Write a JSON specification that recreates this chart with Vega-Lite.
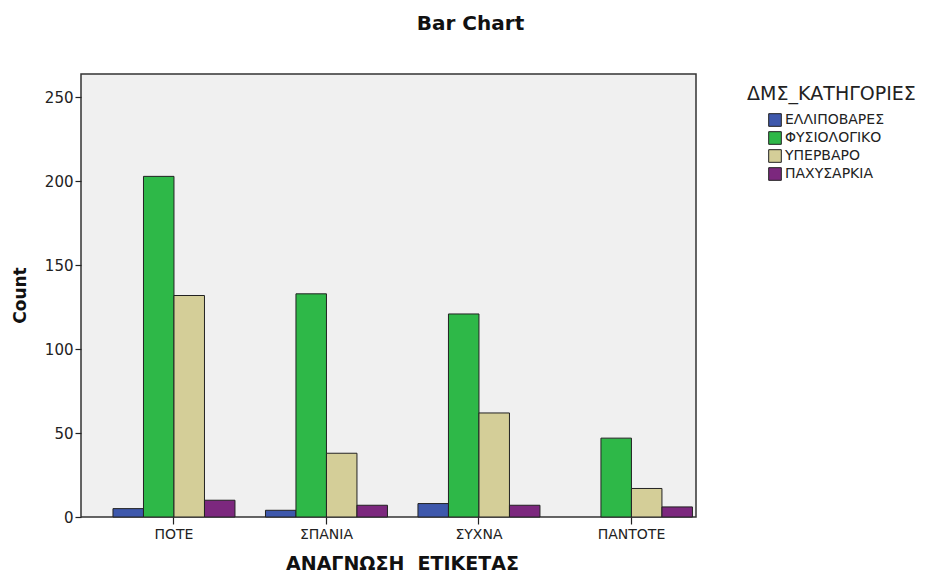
{
  "$schema": "https://vega.github.io/schema/vega-lite/v6.json",
  "width": 615,
  "height": 443,
  "autosize": "none",
  "padding": {"left": 81, "top": 74, "right": 234, "bottom": 55},
  "background": "white",
  "title": {"text": "Bar Chart", "font": "DejaVu Sans", "fontSize": 20, "fontWeight": "bold", "color": "#111", "anchor": "middle", "dx": 82, "offset": 40},
  "config": {
    "view": {"fill": "#f0f0f0", "stroke": "#333", "strokeWidth": 1.5},
    "font": "DejaVu Sans"
  },
  "data": {"values": [
    {"reading": "ΠΟΤΕ", "bmi": "ΕΛΛΙΠΟΒΑΡΕΣ", "count": 5},
    {"reading": "ΠΟΤΕ", "bmi": "ΦΥΣΙΟΛΟΓΙΚΟ", "count": 203},
    {"reading": "ΠΟΤΕ", "bmi": "ΥΠΕΡΒΑΡΟ", "count": 132},
    {"reading": "ΠΟΤΕ", "bmi": "ΠΑΧΥΣΑΡΚΙΑ", "count": 10},
    {"reading": "ΣΠΑΝΙΑ", "bmi": "ΕΛΛΙΠΟΒΑΡΕΣ", "count": 4},
    {"reading": "ΣΠΑΝΙΑ", "bmi": "ΦΥΣΙΟΛΟΓΙΚΟ", "count": 133},
    {"reading": "ΣΠΑΝΙΑ", "bmi": "ΥΠΕΡΒΑΡΟ", "count": 38},
    {"reading": "ΣΠΑΝΙΑ", "bmi": "ΠΑΧΥΣΑΡΚΙΑ", "count": 7},
    {"reading": "ΣΥΧΝΑ", "bmi": "ΕΛΛΙΠΟΒΑΡΕΣ", "count": 8},
    {"reading": "ΣΥΧΝΑ", "bmi": "ΦΥΣΙΟΛΟΓΙΚΟ", "count": 121},
    {"reading": "ΣΥΧΝΑ", "bmi": "ΥΠΕΡΒΑΡΟ", "count": 62},
    {"reading": "ΣΥΧΝΑ", "bmi": "ΠΑΧΥΣΑΡΚΙΑ", "count": 7},
    {"reading": "ΠΑΝΤΟΤΕ", "bmi": "ΦΥΣΙΟΛΟΓΙΚΟ", "count": 47},
    {"reading": "ΠΑΝΤΟΤΕ", "bmi": "ΥΠΕΡΒΑΡΟ", "count": 17},
    {"reading": "ΠΑΝΤΟΤΕ", "bmi": "ΠΑΧΥΣΑΡΚΙΑ", "count": 6}
  ]},
  "mark": {"type": "bar", "stroke": "#222", "strokeWidth": 1},
  "encoding": {
    "x": {
      "field": "reading", "type": "nominal",
      "sort": ["ΠΟΤΕ", "ΣΠΑΝΙΑ", "ΣΥΧΝΑ", "ΠΑΝΤΟΤΕ"],
      "scale": {"paddingInner": 0.2, "paddingOuter": 0.1165, "align": 0.9},
      "axis": {
        "title": "ΑΝΑΓΝΩΣΗ\u00a0\u00a0ΕΤΙΚΕΤΑΣ",
        "titleFont": "DejaVu Sans", "titleFontSize": 19, "titleFontWeight": "bold", "titleColor": "#111",
        "titleX": 321, "titleY": 46, "titleBaseline": "middle",
        "labelAngle": 0, "labelFont": "DejaVu Sans", "labelFontSize": 14, "labelColor": "#222", "labelPadding": 3,
        "tickColor": "#222", "tickSize": 7, "tickWidth": 1.2,
        "domain": false, "grid": false
      }
    },
    "xOffset": {
      "field": "bmi", "type": "nominal",
      "sort": ["ΕΛΛΙΠΟΒΑΡΕΣ", "ΦΥΣΙΟΛΟΓΙΚΟ", "ΥΠΕΡΒΑΡΟ", "ΠΑΧΥΣΑΡΚΙΑ"],
      "scale": {"domain": ["ΕΛΛΙΠΟΒΑΡΕΣ", "ΦΥΣΙΟΛΟΓΙΚΟ", "ΥΠΕΡΒΑΡΟ", "ΠΑΧΥΣΑΡΚΙΑ"], "paddingInner": 0, "paddingOuter": 0}
    },
    "y": {
      "field": "count", "type": "quantitative",
      "scale": {"domain": [0, 264], "nice": false},
      "axis": {
        "title": "Count",
        "titleFont": "DejaVu Sans", "titleFontSize": 17, "titleFontWeight": "bold", "titleColor": "#111",
        "titleX": -61, "titleY": 221, "titleBaseline": "middle", "titleAngle": 270,
        "values": [0, 50, 100, 150, 200, 250],
        "labelFont": "DejaVu Sans", "labelFontSize": 15, "labelColor": "#222", "labelPadding": 2,
        "tickColor": "#222", "tickSize": 6, "tickWidth": 1.2,
        "domain": false, "grid": false
      }
    },
    "color": {
      "field": "bmi", "type": "nominal",
      "scale": {"domain": ["ΕΛΛΙΠΟΒΑΡΕΣ", "ΦΥΣΙΟΛΟΓΙΚΟ", "ΥΠΕΡΒΑΡΟ", "ΠΑΧΥΣΑΡΚΙΑ"], "range": ["#3e58ac", "#2eb848", "#d4ce98", "#7c287e"]},
      "legend": {
        "title": "ΔΜΣ_ΚΑΤΗΓΟΡΙΕΣ",
        "orient": "none", "legendX": 666, "legendY": 11,
        "titleFont": "DejaVu Sans", "titleFontSize": 19, "titleFontWeight": "normal", "titleColor": "#222", "titlePadding": 9,
        "labelFont": "DejaVu Sans", "labelFontSize": 14, "labelColor": "#222", "labelOffset": 3,
        "symbolType": "square", "symbolSize": 160, "symbolStrokeColor": "#222", "symbolStrokeWidth": 1, "symbolOpacity": 1,
        "symbolOffset": 21,
        "rowPadding": 0, "offset": 0, "padding": 0
      }
    }
  }
}
